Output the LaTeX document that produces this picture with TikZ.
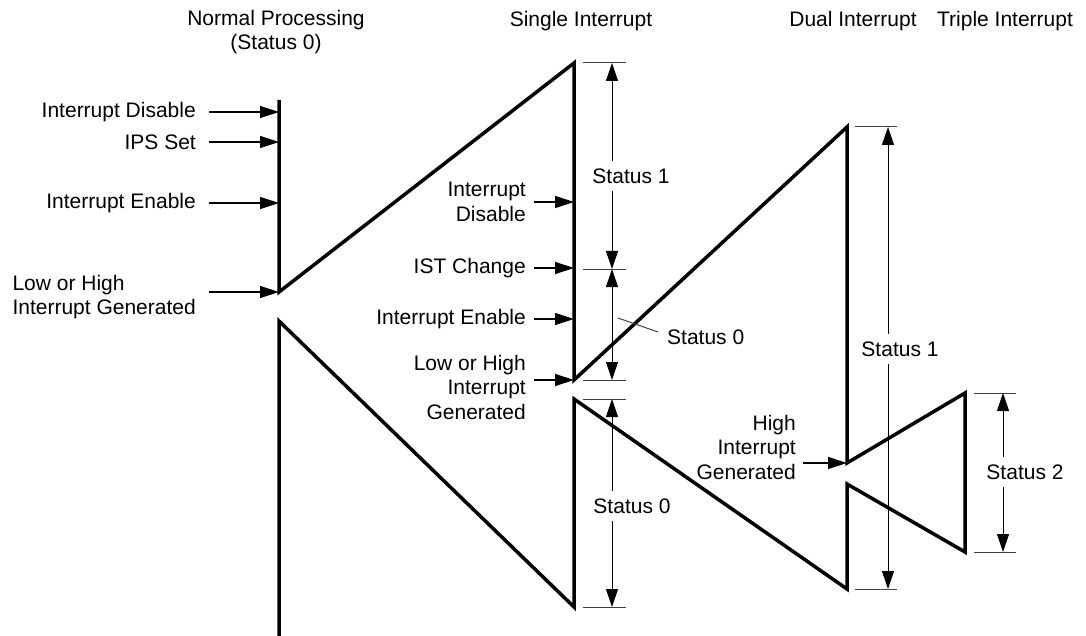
\documentclass[tikz,border=0pt]{standalone}
\usepackage{fontspec}
\setmainfont{Liberation Sans}
\usetikzlibrary{arrows.meta}

\begin{document}
\begin{tikzpicture}[
        x=1pt, y=-1pt,
        every node/.style={font=\fontsize{21}{24.5}\selectfont, inner sep=0pt},
        wave/.style={line width=3.5pt},
        cue/.style={line width=1.3pt, -{Triangle[length=19pt,width=12pt]}},
        span/.style={line width=1pt, {Triangle[length=18pt,width=12pt]}-{Triangle[length=18pt,width=12pt]}},
        tick/.style={line width=1pt, black!75},
        lbl/.style={anchor=east, align=right},
        stat/.style={fill=white, inner xsep=2pt, inner ysep=8pt},
    ]
    \useasboundingbox (0,0) rectangle (1086,636);

    % corners of the processing line
    \coordinate (n0) at (279,100);
    \coordinate (n1) at (279,292);
    \coordinate (s1) at (574,63);
    \coordinate (s2) at (574,380);
    \coordinate (d1) at (847,127);
    \coordinate (d2) at (847,463);
    \coordinate (t1) at (965,393);
    \coordinate (t2) at (965,552);
    \coordinate (d3) at (847,484);
    \coordinate (d4) at (847,589);
    \coordinate (s3) at (574,399);
    \coordinate (s4) at (574,607);
    \coordinate (n2) at (279,321);
    \coordinate (n3) at (279,636);
    \draw[wave] (n0) -- (n1) -- (s1) -- (s2) -- (d1) -- (d2) -- (t1) -- (t2)
        -- (d3) -- (d4) -- (s3) -- (s4) -- (n2) -- (n3);

    % headings
    \node[align=center] (hnorm) at (276,32) {Normal Processing\\(Status 0)};
    \node (hsing) at (581,21) {Single Interrupt};
    \node (hdual) at (853,21) {Dual Interrupt};
    \node (htrip) at (1005,21) {Triple Interrupt};

    % normal processing events
    \node[lbl] (ldis) at (196,112) {Interrupt Disable};
    \node[lbl] (lips) at (196,142) {IPS Set};
    \node[lbl] (lena) at (196,203) {Interrupt Enable};
    \node[anchor=east, align=left] (llow) at (196,297) {Low or High\\Interrupt Generated};
    \draw[cue] ([xshift=13pt]ldis.east) -- (ldis -| n0);
    \draw[cue] ([xshift=13pt]lips.east) -- (lips -| n0);
    \draw[cue] ([xshift=13pt]lena.east) -- (lena -| n0);
    \draw[cue] ([xshift=13pt]llow.east |- n1) -- (n1);

    % single interrupt events
    \node[lbl] (mdis) at (526,202) {Interrupt\\Disable};
    \node[lbl] (mist) at (526,268) {IST Change};
    \node[lbl] (mena) at (526,319) {Interrupt Enable};
    \node[lbl] (mlow) at (526,387) {Low or High\\Interrupt\\Generated};
    \draw[cue] ([xshift=8pt]mdis.east) -- (mdis -| s1);
    \draw[cue] ([xshift=8pt]mist.east) -- (mist -| s1);
    \draw[cue] ([xshift=8pt]mena.east) -- (mena -| s1);
    \draw[cue] ([xshift=8pt]mlow.east |- s2) -- (s2);

    % dual interrupt event
    \node[lbl] (dhigh) at (796,447) {High\\Interrupt\\Generated};
    \draw[cue] ([xshift=7pt]dhigh.east |- d2) -- (d2);

    % status spans
    \coordinate (a1) at (612,63);
    \coordinate (a2) at (612,269);
    \coordinate (a3) at (612,380);
    \coordinate (a4) at (612,399);
    \coordinate (a5) at (612,607);
    \coordinate (b1) at (888,127);
    \coordinate (b2) at (888,589);
    \coordinate (c1) at (1003,393);
    \coordinate (c2) at (1003,552);
    \foreach \p in {a1,a2,a3,a4,a5}
        \draw[tick] ([xshift=-29pt]\p) -- ([xshift=14pt]\p);
    \foreach \p in {b1,b2}
        \draw[tick] ([xshift=-33pt]\p) -- ([xshift=9pt]\p);
    \foreach \p in {c1,c2}
        \draw[tick] ([xshift=-29pt]\p) -- ([xshift=13pt]\p);
    \draw[span] (a1) -- (a2);
    \draw[span] (a2) -- (a3);
    \draw[span] (a4) -- (a5);
    \draw[span] (b1) -- (b2);
    \draw[span] (c1) -- (c2);
    \node[stat] (st1s) at (631,176) {Status 1};
    \node[stat] (st0l) at (632,506) {Status 0};
    \node[stat] (st1d) at (900,349) {Status 1};
    \node[stat] (st2t) at (1025,472) {Status 2};
    \coordinate (q0) at (618,318);
    \node[anchor=west] (st0s) at (667,337) {Status 0};
    \draw[tick] (q0) -- ([shift={(-9pt,5pt)}]st0s.west);
\end{tikzpicture}
\end{document}
